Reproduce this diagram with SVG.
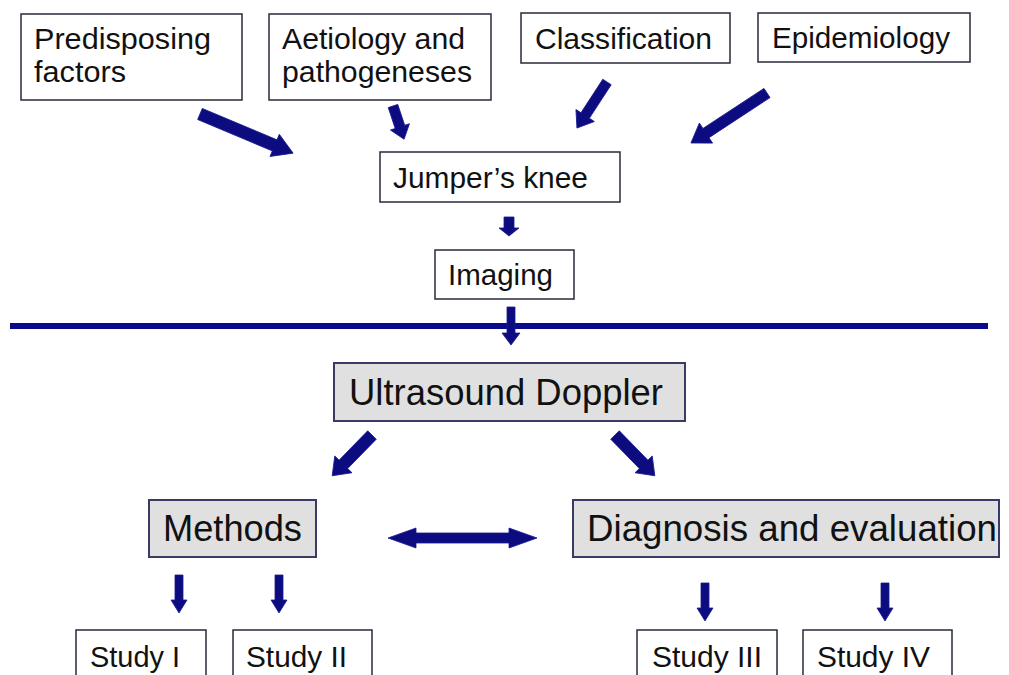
<svg xmlns="http://www.w3.org/2000/svg" width="1009" height="675" viewBox="0 0 1009 675">
<style>
.box{fill:#ffffff;stroke:#2a2a3a;stroke-width:1.5}
.gbox{fill:#e0e0e0;stroke:#3a3a66;stroke-width:2}
.t{font-family:"Liberation Sans",Arial,sans-serif;font-size:30px;fill:#111111}
.tg{font-family:"Liberation Sans",Arial,sans-serif;font-size:36.5px;fill:#111111}
.ts{font-family:"Liberation Sans",Arial,sans-serif;font-size:29px;fill:#111111}
.arr{fill:#0c0c80;stroke:#1a1a90;stroke-width:0.8}
</style>
<rect width="1009" height="675" fill="#ffffff"/>
<g id="predisposing">
<rect class="box" x="21" y="14" width="221" height="86"/>
<text class="t" x="34" y="49" textLength="177" lengthAdjust="spacingAndGlyphs">Predisposing</text>
<text class="t" x="34" y="82" textLength="92" lengthAdjust="spacingAndGlyphs">factors</text>
</g>
<g id="aetiology">
<rect class="box" x="269" y="14" width="222" height="86"/>
<text class="t" x="282" y="49" textLength="183" lengthAdjust="spacingAndGlyphs">Aetiology and</text>
<text class="t" x="282" y="82" textLength="190" lengthAdjust="spacingAndGlyphs">pathogeneses</text>
</g>
<g id="classification">
<rect class="box" x="521" y="13" width="209" height="50"/>
<text class="t" x="535" y="49" textLength="177" lengthAdjust="spacingAndGlyphs">Classification</text>
</g>
<g id="epidemiology">
<rect class="box" x="758" y="13" width="212" height="49"/>
<text class="t" x="772" y="48" textLength="178" lengthAdjust="spacingAndGlyphs">Epidemiology</text>
</g>
<g id="jumpers-knee">
<rect class="box" x="380" y="152" width="240" height="50"/>
<text class="t" x="393" y="188" textLength="195" lengthAdjust="spacingAndGlyphs">Jumper’s knee</text>
</g>
<g id="imaging">
<rect class="box" x="435" y="250" width="139" height="49"/>
<text class="t" x="448" y="285" textLength="105" lengthAdjust="spacingAndGlyphs">Imaging</text>
</g>
<line x1="10" y1="326" x2="988" y2="326" stroke="#0a0a8a" stroke-width="6"/>
<g id="ultrasound-doppler">
<rect class="gbox" x="334" y="363" width="351" height="58"/>
<text class="tg" x="349" y="405" textLength="314" lengthAdjust="spacingAndGlyphs">Ultrasound Doppler</text>
</g>
<g id="methods">
<rect class="gbox" x="149" y="500" width="167" height="57"/>
<text class="tg" x="163" y="541" textLength="139" lengthAdjust="spacingAndGlyphs">Methods</text>
</g>
<g id="diagnosis">
<rect class="gbox" x="573" y="500" width="426" height="57"/>
<text class="tg" x="587" y="541" textLength="410" lengthAdjust="spacingAndGlyphs">Diagnosis and evaluation</text>
</g>
<g id="study-1">
<rect class="box" x="76" y="630" width="130" height="55"/>
<text class="ts" x="90" y="667" textLength="90" lengthAdjust="spacingAndGlyphs">Study I</text>
</g>
<g id="study-2">
<rect class="box" x="233" y="630" width="139" height="55"/>
<text class="ts" x="246" y="667" textLength="101" lengthAdjust="spacingAndGlyphs">Study II</text>
</g>
<g id="study-3">
<rect class="box" x="637" y="630" width="140" height="55"/>
<text class="ts" x="652" y="667" textLength="110" lengthAdjust="spacingAndGlyphs">Study III</text>
</g>
<g id="study-4">
<rect class="box" x="803" y="630" width="149" height="55"/>
<text class="ts" x="817" y="667" textLength="113" lengthAdjust="spacingAndGlyphs">Study IV</text>
</g>
<g id="connectors">
<path class="arr" transform="translate(200,114) rotate(22.8)" d="M0,-6 L81,-6 L81,-12 L101,0 L81,12 L81,6 L0,6 Z"/>
<path class="arr" transform="translate(393,106) rotate(71.6)" d="M0,-5 L22,-5 L22,-10 L35,0 L22,10 L22,5 L0,5 Z"/>
<path class="arr" transform="translate(607,82) rotate(123.1)" d="M0,-5 L40,-5 L40,-11 L55,0 L40,11 L40,5 L0,5 Z"/>
<path class="arr" transform="translate(767,93) rotate(146.7)" d="M0,-5.5 L73,-5.5 L73,-12 L91,0 L73,12 L73,5.5 L0,5.5 Z"/>
<polygon class="arr" points="504,217 514,217 514,228 519,228 509,236 499,228 504,228"/>
<polygon class="arr" points="507,307 515,307 515,333 520,333 511,345 502,333 507,333"/>
<path class="arr" transform="translate(372,435) rotate(134.3)" d="M0,-6 L41,-6 L41,-12 L57,0 L41,12 L41,6 L0,6 Z"/>
<path class="arr" transform="translate(615,435) rotate(45.7)" d="M0,-6 L41,-6 L41,-12 L57,0 L41,12 L41,6 L0,6 Z"/>
<polygon class="arr" points="388,538 416,528 416,533 509,533 509,528 537,538 509,548 509,543 416,543 416,548"/>
<polygon class="arr" points="175,575 183,575 183,600 187,600 179,613 171,600 175,600"/>
<polygon class="arr" points="275,575 283,575 283,600 287,600 279,613 271,600 275,600"/>
<polygon class="arr" points="701,583 709,583 709,608 713,608 705,621 697,608 701,608"/>
<polygon class="arr" points="881,583 889,583 889,608 893,608 885,621 877,608 881,608"/>
</g>
</svg>
